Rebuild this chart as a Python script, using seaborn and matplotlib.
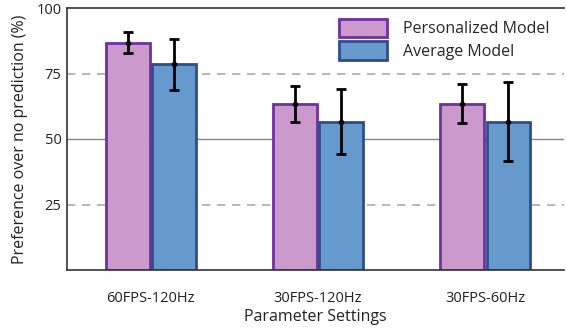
import matplotlib
matplotlib.use("Agg")
import matplotlib.pyplot as plt
import seaborn as sns
import pandas as pd
import numpy as np
from matplotlib.patches import Patch

categories = ["60FPS-120Hz", "30FPS-120Hz", "30FPS-60Hz"]
models = ["Personalized Model", "Average Model"]
personalized = [86.8, 63.4, 63.4]
personalized_lo = [82.7, 56.6, 56.0]
personalized_hi = [91.0, 70.2, 70.9]
average = [78.5, 56.6, 56.6]
average_lo = [68.6, 44.4, 41.7]
average_hi = [88.2, 69.0, 71.8]
yticks = [25, 50, 75, 100]

fills = {"Personalized Model": "#CC99CC", "Average Model": "#6699CC"}
edges = {"Personalized Model": "#7030A0", "Average Model": "#2E4D8A"}

df = pd.DataFrame({
    "cat": categories * 2,
    "model": [models[0]] * 3 + [models[1]] * 3,
    "val": personalized + average,
    "lo": personalized_lo + average_lo,
    "hi": personalized_hi + average_hi,
})

sns.set_theme(style="white")
plt.rcParams["font.family"] = ["Open Sans", "DejaVu Sans"]

fig = plt.figure(figsize=(5.66, 3.29), dpi=100)
ax = fig.add_axes([67 / 566, 59 / 329, (564 - 67) / 566, (270 - 8) / 329])

ax.axhline(25, color="#AAAAAA", lw=1.2, ls=(0, (5, 4)), zorder=0)
ax.axhline(75, color="#AAAAAA", lw=1.2, ls=(0, (5, 4)), zorder=0)
ax.axhline(50, color="#888888", lw=1.0, zorder=0)

sns.barplot(data=df, x="cat", y="val", hue="model", order=categories,
            hue_order=models, palette=fills, saturation=1, errorbar=None,
            width=0.55, gap=0.05, ax=ax, legend=False, zorder=2)

# style bars and add error bars
for i, model in enumerate(models):
    cont = ax.containers[i]
    sub = df[df.model == model].set_index("cat").loc[categories]
    for bar in cont:
        bar.set_edgecolor(edges[model])
        bar.set_linewidth(2)
    xs = [b.get_x() + b.get_width() / 2 for b in cont]
    vals = sub["val"].values
    lo = vals - sub["lo"].values
    hi = sub["hi"].values - vals
    ax.errorbar(xs, vals, yerr=[lo, hi], fmt="o", color="black", ms=3,
                elinewidth=2, capsize=3.5, capthick=2, zorder=3)

ax.set_ylim(0, 100)
ax.set_xlim(-0.5, 2.47)
ax.set_yticks(yticks)
ax.set_yticklabels([str(t) for t in yticks])
ax.tick_params(axis="y", length=0, labelsize=10.5, colors="#222222", pad=4)
ax.tick_params(axis="x", direction="in", length=3, width=1, color="#333333",
               labelsize=10.5, labelcolor="#222222", pad=15)

for s in ["left", "bottom", "top"]:
    ax.spines[s].set_visible(True)
    ax.spines[s].set_color("#333333")
    ax.spines[s].set_linewidth(1.2)
ax.spines["right"].set_visible(False)

ax.set_xlabel("Parameter Settings", fontsize=11.5, color="#222222", labelpad=2)
ax.set_ylabel("Preference over no prediction (%)", fontsize=11.5,
              color="#222222", labelpad=6)

handles = [Patch(facecolor=fills[m], edgecolor=edges[m], linewidth=2, label=m)
           for m in models]
ax.legend(handles=handles, loc="upper right", bbox_to_anchor=(0.99, 0.995),
          frameon=True, facecolor="white", edgecolor="white", framealpha=1,
          fontsize=11.5, handlelength=3.0, handleheight=1.4, labelspacing=0.25,
          handletextpad=1.0, borderaxespad=0.2)

fig.savefig("out.png", dpi=100)
